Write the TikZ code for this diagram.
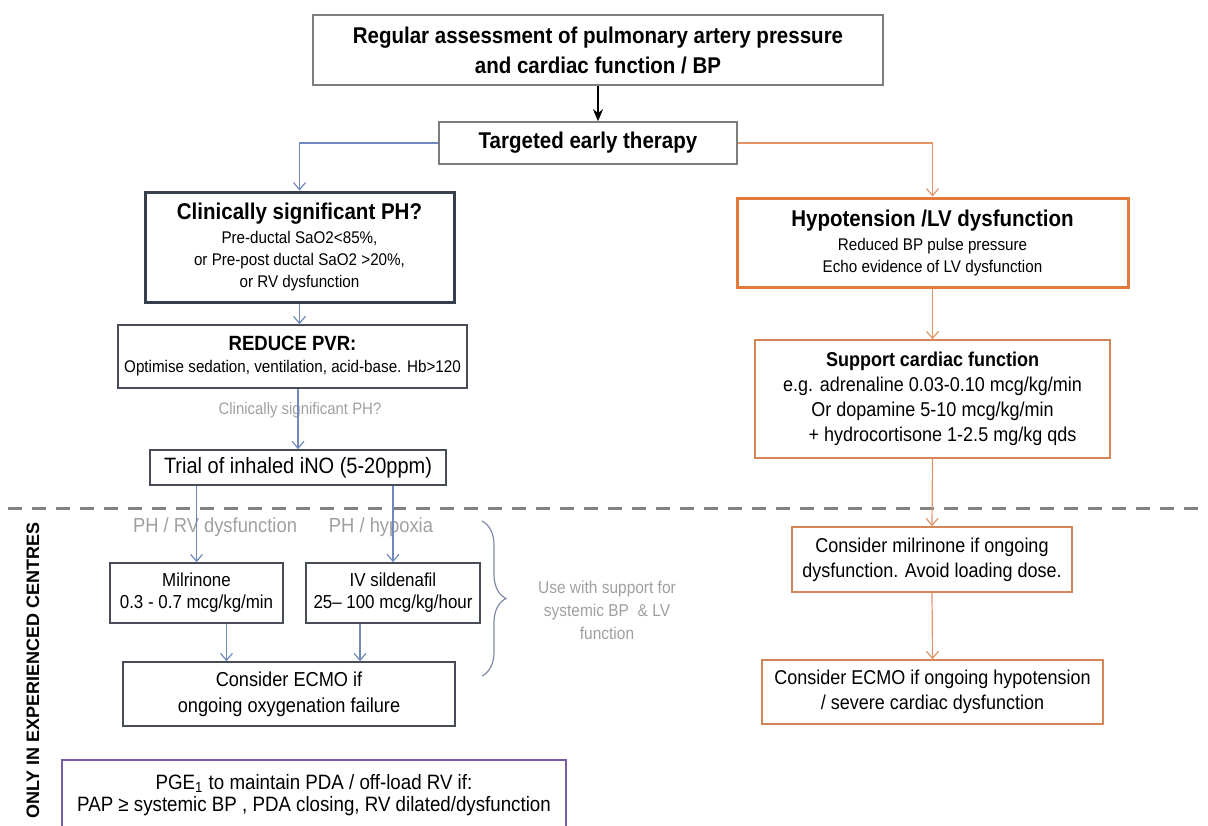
\documentclass[tikz,border=0pt]{standalone}
\usepackage{fontspec}
\setmainfont{Liberation Sans}[FakeStretch=0.9]
\newfontfamily\capsfont{Liberation Sans}
\usepackage{tikz}
\usetikzlibrary{arrows.meta,decorations.pathreplacing}
\definecolor{blueline}{RGB}{112,136,188}
\definecolor{orangeline}{RGB}{226,148,105}
\definecolor{orangethick}{RGB}{228,122,58}
\definecolor{orangethin}{RGB}{214,134,86}
\definecolor{boxgray}{RGB}{125,125,125}
\definecolor{boxdark}{RGB}{72,76,86}
\definecolor{slateline}{RGB}{55,62,76}
\definecolor{purpleline}{RGB}{122,92,160}
\definecolor{labelgray}{RGB}{160,160,160}
\definecolor{dashgray}{RGB}{130,130,130}
\definecolor{bracecol}{RGB}{130,140,168}
\newcommand{\boxtitle}{\fontsize{11.4}{15}\selectfont\bfseries}
\newcommand{\boxsmall}{\fontsize{8.45}{11}\selectfont}

\begin{document}
\begin{tikzpicture}[x=0.5pt,y=-0.5pt,
		box/.style={rectangle,draw=boxgray,line width=0.8pt,align=center,inner sep=0pt},
		lftbox/.style={box,draw=boxdark},
		rgtbox/.style={box,draw=orangethin},
		glabel/.style={text=labelgray,align=center,inner sep=0pt},
		bluearr/.style={draw=blueline,line width=0.6pt,-{Straight Barb[length=3.5pt,width=6pt]}},
		orangearr/.style={draw=orangeline,line width=0.6pt,-{Straight Barb[length=3.5pt,width=6pt]}}]
			\useasboundingbox (0,0) rectangle (1208,825);

			\node[box,font=\boxtitle,minimum width=285pt,minimum height=35pt] (assess) at (598,50) {Regular assessment of pulmonary artery pressure\\and cardiac function / BP};
			\node[box,font=\boxtitle,minimum width=149pt,minimum height=21pt] (therapy) at (588,143) {Targeted early therapy};

			\node[box,draw=slateline,line width=1.5pt,minimum width=154.5pt,minimum height=55pt,font=\boxsmall] (clinph) at (299.5,247) {{\boxtitle Clinically significant PH?}\\[1pt]Pre-ductal SaO2<85\%,\\or Pre-post ductal SaO2 >20\%,\\or RV dysfunction};
			\node[lftbox,minimum width=174.5pt,minimum height=31.5pt,font=\boxsmall] (pvr) at (292.5,356.5) {{\fontsize{10.3}{13}\selectfont\bfseries REDUCE PVR:}\\Optimise sedation, ventilation, acid-base. Hb>120};
			\node[glabel,font=\fontsize{8.3}{10}\selectfont] (askph) at (300,410) {Clinically significant PH?};
			\node[lftbox,minimum width=148pt,minimum height=17.5pt,font=\fontsize{11.1}{13}\selectfont] (ino) at (298,467.5) {Trial of inhaled iNO (5-20ppm)};

			\draw[draw=dashgray,line width=1.5pt,dash pattern=on 7pt off 5pt] (8,508) -- (1208,508);

			\node[glabel,font=\fontsize{10.2}{12}\selectfont] (rvlbl) at (215,527) {PH / RV dysfunction};
			\node[glabel,font=\fontsize{10.2}{12}\selectfont] (hyplbl) at (381,527) {PH / hypoxia};
			\node[lftbox,minimum width=86.5pt,minimum height=30pt,font=\fontsize{9.4}{11}\selectfont] (milL) at (196.5,593) {Milrinone\\0.3 - 0.7 mcg/kg/min};
			\node[lftbox,minimum width=87pt,minimum height=30pt,font=\fontsize{9.4}{11}\selectfont] (sild) at (393,593) {IV sildenafil\\25\textendash{} 100 mcg/kg/hour};
			\node[lftbox,minimum width=166pt,minimum height=32pt,font=\fontsize{10.1}{13}\selectfont] (ecmoL) at (289,694) {Consider ECMO if\\ongoing oxygenation failure};
			\node[box,draw=purpleline,line width=1pt,minimum width=252pt,minimum height=35pt,font=\fontsize{10.4}{11}\selectfont] (pge) at (314,795) {PGE\textsubscript{1} to maintain PDA / off-load RV if:\\PAP ≥ systemic BP , PDA closing, RV dilated/dysfunction};
			\node[font=\capsfont\fontsize{9}{11}\selectfont\bfseries,rotate=90,anchor=east,inner sep=0pt] (centres) at (33,522) {ONLY IN EXPERIENCED CENTRES};

			\draw[draw=bracecol,line width=0.6pt,decorate,decoration={brace,amplitude=12pt}] (482,521) -- (482,676);
			\node[glabel,font=\fontsize{8.6}{11.5}\selectfont] (usewith) at (607,610) {Use with support for\\systemic BP \ \& LV\\function};

			\node[box,draw=orangethick,line width=1.5pt,minimum width=195.5pt,minimum height=44.5pt,font=\boxsmall] (hypo) at (932.5,242.5) {{\boxtitle Hypotension /LV dysfunction}\\[1pt]Reduced BP pulse pressure\\Echo evidence of LV dysfunction};
			\node[rgtbox,minimum width=177.5pt,minimum height=59pt,font=\fontsize{10}{12.5}\selectfont] (support) at (932.5,399) {\textbf{Support cardiac function}\\e.g. adrenaline 0.03-0.10 mcg/kg/min\\Or dopamine 5-10 mcg/kg/min\\\quad+ hydrocortisone 1-2.5 mg/kg qds};
			\node[rgtbox,minimum width=140pt,minimum height=32.5pt,font=\fontsize{10}{12.5}\selectfont] (milR) at (932,559.5) {Consider milrinone if ongoing\\dysfunction. Avoid loading dose.};
			\node[rgtbox,minimum width=170.5pt,minimum height=32pt,font=\fontsize{10}{12.5}\selectfont] (ecmoR) at (932.5,692) {Consider ECMO if ongoing hypotension\\/ severe cardiac dysfunction};

			\draw[line width=1.2pt,-{Stealth[length=6pt,width=5pt]}] (assess.south) -- (assess.south |- therapy.north);
			\draw[bluearr] (therapy.west) -| (clinph.north);
			\draw[orangearr] (therapy.east) -| (hypo.north);
			\draw[bluearr] (clinph.south) -- (clinph.south |- pvr.north);
			\draw[bluearr] (ino.north |- pvr.south) -- (ino.north);
			\draw[bluearr] (milL.north |- ino.south) -- (milL.north);
			\draw[bluearr] (sild.north |- ino.south) -- (sild.north);
			\draw[bluearr] ([xshift=15pt]milL.south) -- ([xshift=15pt]milL.south |- ecmoL.north);
			\draw[bluearr] ([xshift=-16.5pt]sild.south) -- ([xshift=-16.5pt]sild.south |- ecmoL.north);
			\draw[orangearr] (hypo.south) -- (support.north);
			\draw[orangearr] (support.south) -- (milR.north);
			\draw[orangearr] (milR.south) -- (ecmoR.north);
		\end{tikzpicture}
\end{document}
